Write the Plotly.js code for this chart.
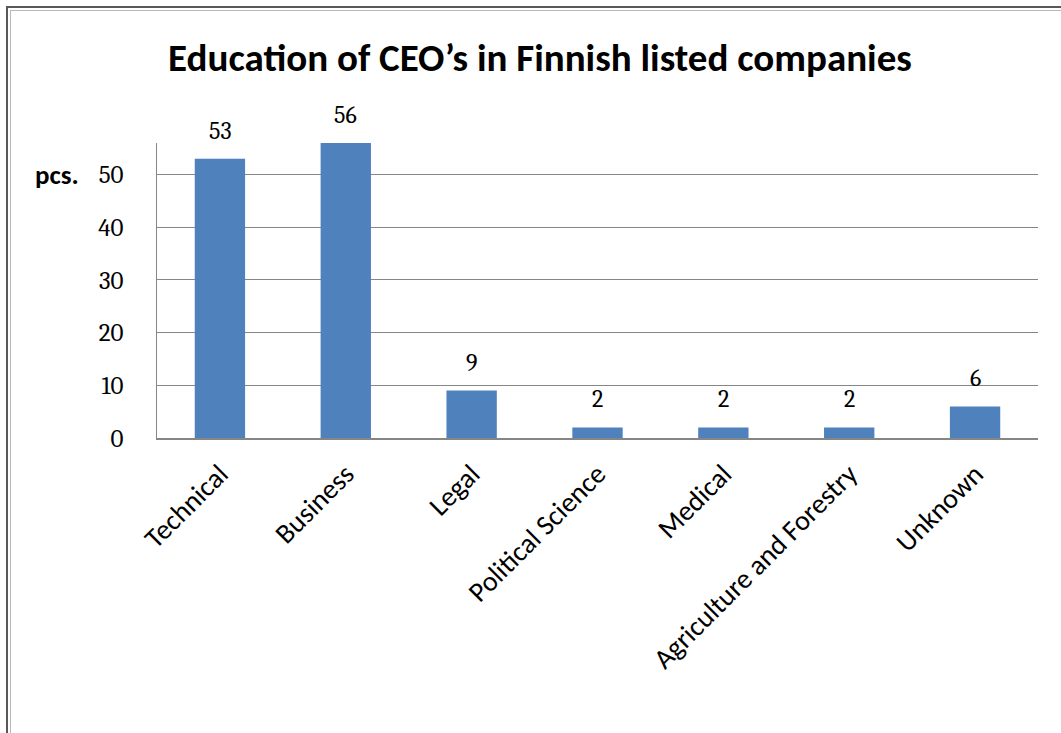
<!DOCTYPE html>
<html>
<head>
<meta charset="utf-8">
<script src="https://cdn.plot.ly/plotly-3.0.1.min.js"></script>
<style>
html,body{margin:0;padding:0;background:#fff;overflow:hidden;}
#chart{width:1061px;height:733px;position:absolute;left:0;top:0;}
#b1{position:absolute;left:6px;top:6px;width:1100px;height:800px;border-left:2px solid #595959;border-top:2px solid #595959;pointer-events:none;z-index:5;}
#b2{position:absolute;left:10px;top:10px;width:1100px;height:800px;border-left:1px solid #b8b8b8;border-top:1px solid #b8b8b8;pointer-events:none;z-index:5;}
</style>
</head>
<body>
<div id="chart"></div>
<div id="b1"></div>
<div id="b2"></div>
<script>
var categories = ["Technical", "Business", "Legal", "Political Science", "Medical", "Agriculture and Forestry", "Unknown"];
var values = [53, 56, 9, 2, 2, 2, 6];
var yTicks = [0, 10, 20, 30, 40, 50];

var serif = "Cambria, 'Liberation Serif', serif";
var sans = "Carlito, Calibri, 'Open Sans', sans-serif";

var trace = {
  type: "bar",
  x: categories,
  y: values,
  marker: {color: "#4F81BD", line: {width: 0}},
  hoverinfo: "x+y"
};

var annotations = categories.map(function (c, i) {
  return {
    x: c, y: values[i], xref: "x", yref: "y",
    text: String(values[i]), showarrow: false,
    yanchor: "middle", yshift: 28,
    font: {family: serif, size: 24, color: "#000"}
  };
});
annotations.push({
  xref: "paper", yref: "paper", x: -0.114, y: 50 / 56,
  xanchor: "center", yanchor: "middle",
  text: "<b>pcs.</b>", showarrow: false,
  font: {family: sans, size: 27, color: "#000"}
});

var layout = {
  width: 1061, height: 733,
  margin: {l: 157, r: 23, t: 143, b: 295, pad: 0},
  paper_bgcolor: "#fff", plot_bgcolor: "#fff",
  title: {
    text: "<b>Education of CEO’s in Finnish listed companies</b>",
    font: {family: sans, size: 39, color: "#000"},
    x: 540 / 1061, xanchor: "center", xref: "container",
    y: 1 - 57 / 733, yanchor: "middle", yref: "container"
  },
  showlegend: false,
  bargap: 0.6,
  xaxis: {
    type: "category",
    tickangle: -45,
    tickfont: {family: sans, size: 28, color: "#000"},
    showline: true, linecolor: "#868686", linewidth: 1.5,
    ticks: "outside", ticklen: 7, tickcolor: "rgba(0,0,0,0)",
    showgrid: false, zeroline: false,
    fixedrange: true
  },
  yaxis: {
    range: [0, 56],
    tickvals: yTicks,
    ticktext: yTicks.map(String),
    tickfont: {family: serif, size: 25, color: "#000"},
    showline: true, linecolor: "#868686", linewidth: 1.5,
    showgrid: true, gridcolor: "#868686", gridwidth: 1,
    zeroline: false, ticks: "",
    ticklabelstandoff: 27,
    fixedrange: true
  },
  annotations: annotations
};

Plotly.newPlot("chart", [trace], layout, {displayModeBar: false, staticPlot: true});
</script>
</body>
</html>
